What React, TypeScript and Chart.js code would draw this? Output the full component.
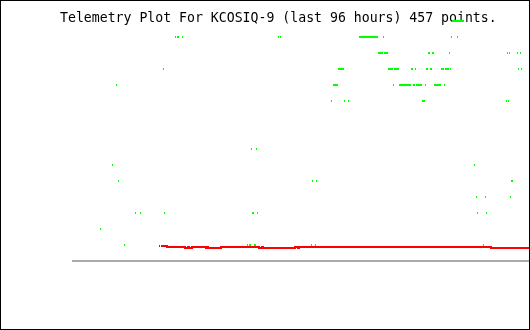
import React, { useEffect, useRef } from "react";
import { Chart, registerables } from "chart.js";

Chart.register(...registerables);

// ---- Data (x = hours within the 96-hour window, y = reported value) ----
const TITLE = "Telemetry Plot For KCOSIQ-9 (last 96 hours) 457 points.";
const HOURS_MIN = 0;
const HOURS_MAX = 96;
const VALUE_MIN = 0;
const VALUE_MAX = 15;

const hoursAt15 = [79.93, 80.14, 80.35, 80.56, 80.77, 80.98, 81.19, 81.4, 81.61, 81.82, 82.03, 82.24];
const hoursAt14 = [
  21.74, 22.16, 22.37, 23.21, 43.38, 43.8,
  60.39, 60.6, 60.81, 61.02, 61.23, 61.44, 61.65, 61.86, 62.07, 62.28, 62.49, 62.7, 62.91, 63.12,
  63.33, 63.54, 63.76, 63.97, 64.18, 65.44, 79.72, 80.98,
];
const hoursAt13 = [
  64.39, 64.6, 64.81, 65.02, 65.23, 65.65, 65.86, 66.07, 66.28,
  74.89, 75.1, 75.73, 75.94, 79.3, 91.48, 91.9, 93.58, 94.21,
];
const hoursAt12 = [
  19.22, 55.98, 56.19, 56.4, 56.61, 56.82, 57.03,
  66.49, 66.7, 66.91, 67.12, 67.33, 67.75, 67.96, 68.17, 68.38, 68.59,
  71.32, 71.53, 72.16, 74.47, 74.68, 75.31, 75.52,
  77.62, 77.83, 78.04, 78.46, 78.67, 78.88, 79.09, 79.51, 93.79, 94.42,
];
const hoursAt11 = [
  9.35, 54.93, 55.14, 55.35, 55.56, 55.77, 67.54,
  68.8, 69.01, 69.22, 69.43, 69.64, 69.85, 70.06, 70.27, 70.48, 70.69, 70.9, 71.11,
  71.74, 71.95, 72.37, 72.58, 72.79, 73.0, 73.21, 73.42, 74.26,
  76.15, 76.36, 76.57, 76.78, 76.99, 77.2, 77.41, 78.25,
];
const hoursAt10 = [54.51, 57.24, 58.08, 73.63, 73.84, 74.05, 91.27, 91.69];
const hoursAt7 = [37.71, 38.76];
const hoursAt6 = [8.51, 84.55];
const hoursAt5 = [9.77, 50.52, 51.36, 92.32, 92.53];
const hoursAt4 = [84.97, 86.86, 92.11];
const hoursAt3 = [13.34, 14.39, 19.43, 37.92, 38.13, 38.97, 85.18, 87.07];
const hoursAt2 = [5.99];
const hoursAt1 = [11.03, 36.87, 37.29, 37.5, 38.34, 38.55, 50.31, 51.15, 86.44];

const greenValues = [15, 14, 13, 12, 11, 10, 7, 6, 5, 4, 3, 2, 1];
const greenHours = [
  hoursAt15, hoursAt14, hoursAt13, hoursAt12, hoursAt11, hoursAt10,
  hoursAt7, hoursAt6, hoursAt5, hoursAt4, hoursAt3, hoursAt2, hoursAt1,
];

// Red channel: value holds from each time until the next one (null = gap)
const redHours = [
  18.28, 18.49, 18.6, 18.7, 19.96, 23.74, 24.37, 24.58, 25.21, 28.15, 28.36, 28.57,
  31.3, 39.28, 39.91, 40.12, 46.84, 47.47, 47.69, 88.02, 96.0,
];
const redValues = [
  0.9375, 0.9375, null, 0.9375, 0.875, 0.8125, 0.875, 0.8125, 0.875, 0.8125, 0.875, 0.8125,
  0.875, 0.8125, 0.875, 0.8125, 0.875, 0.8125, 0.875, 0.8125, 0.8125,
];

export default function App() {
  const canvasRef = useRef<HTMLCanvasElement | null>(null);

  useEffect(() => {
    const canvas = canvasRef.current;
    if (!canvas) return;

    const mark = document.createElement("canvas");
    mark.width = 1;
    mark.height = 2;
    const mctx = mark.getContext("2d");
    if (mctx) {
      mctx.fillStyle = "#00ff00";
      mctx.fillRect(0, 0, 1, 2);
    }

    const greenData: { x: number; y: number }[] = [];
    greenHours.forEach((arr, i) => {
      arr.forEach((h) => greenData.push({ x: h, y: greenValues[i] }));
    });
    const redData = redHours.map((h, i) => ({ x: h, y: redValues[i] }));

    const chart = new Chart(canvas, {
      type: "scatter",
      data: {
        datasets: [
          {
            type: "line",
            data: redData as any,
            borderColor: "#ff0000",
            backgroundColor: "#ff0000",
            borderWidth: 2,
            stepped: true,
            pointRadius: 0,
            spanGaps: false,
            fill: false,
            clip: false as any,
            order: 1,
          },
          {
            type: "scatter",
            data: greenData,
            pointStyle: mark as any,
            pointRadius: 1,
            clip: false as any,
            order: 0,
          },
        ],
      },
      options: {
        animation: false,
        responsive: false,
        events: [],
        layout: { autoPadding: false, padding: { left: 59, right: 0, top: 0, bottom: 68 } },
        plugins: {
          legend: { display: false },
          tooltip: { enabled: false },
          title: {
            display: true,
            text: TITLE,
            align: "start",
            color: "#000000",
            font: { family: '"DejaVu Sans Mono", monospace', size: 13.2, weight: "normal", lineHeight: 1.2 },
            padding: { top: 9.58, bottom: -5.42 },
          },
        },
        scales: {
          x: { type: "linear", min: HOURS_MIN, max: HOURS_MAX, display: false },
          y: {
            type: "linear",
            min: VALUE_MIN,
            max: VALUE_MAX,
            display: true,
            ticks: { display: false, stepSize: 1 },
            grid: {
              drawTicks: false,
              lineWidth: 2,
              color: (ctx: any) => (ctx.tick && ctx.tick.value === 0 ? "#aaaaaa" : "rgba(0,0,0,0)"),
            },
            border: { display: false },
            afterFit: (scale: any) => {
              scale.width = 12;
            },
          },
        },
      } as any,
    });

    return () => chart.destroy();
  }, []);

  return (
    <div
      style={{
        position: "absolute",
        left: 0,
        top: 0,
        width: 530,
        height: 330,
        border: "1px solid #000",
        boxSizing: "border-box",
        background: "#ffffff",
      }}
    >
      <canvas ref={canvasRef} width={528} height={328} style={{ display: "block" }} />
    </div>
  );
}
